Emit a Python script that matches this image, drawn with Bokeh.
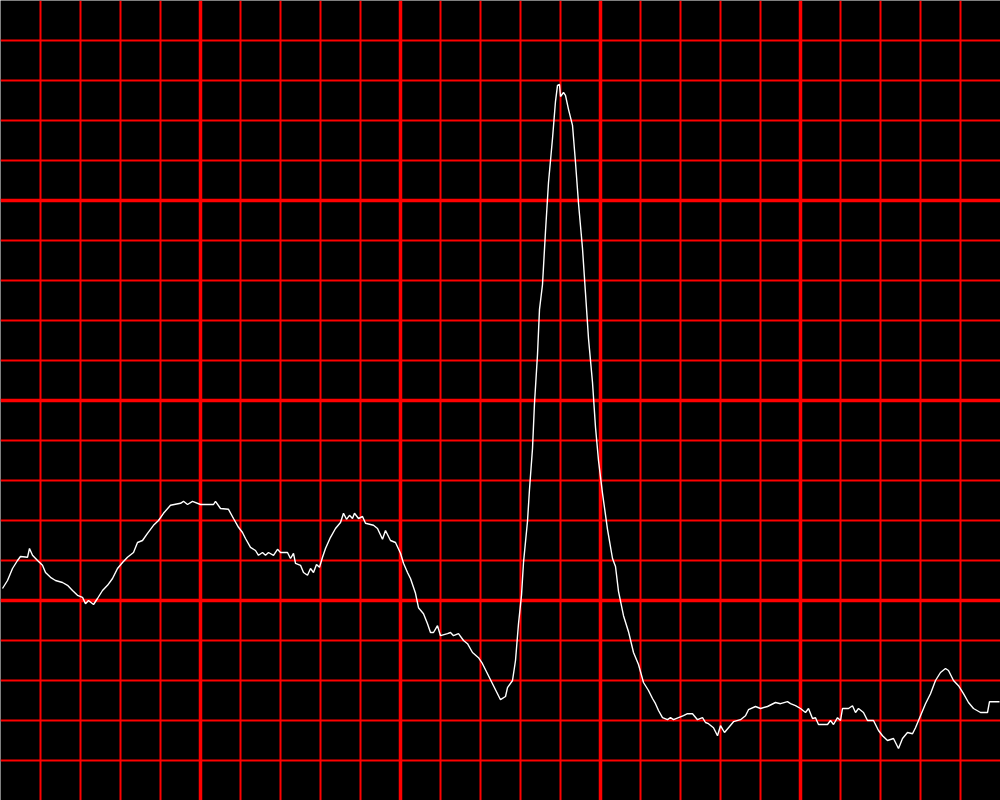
from bokeh.plotting import figure
from bokeh.models import FixedTicker, Range1d
from bokeh.embed import file_html
from bokeh.resources import INLINE

# ECG trace: time in ms, amplitude in mV
time_ms = [2, 7, 12, 17, 20, 27, 29, 32, 37, 42, 45, 50, 55, 62, 67, 72, 77, 82, 85, 88,
           93, 97, 102, 107, 112, 117, 122, 127, 133, 137, 142, 147, 153, 158, 163, 170, 180, 183, 187, 192,
           200, 213, 215, 220, 228, 233, 238, 242, 245, 250, 255, 258, 262, 265, 268, 273, 277, 280, 287, 290,
           293, 295, 300, 303, 307, 310, 313, 316, 319, 322, 325, 330, 335, 340, 343, 346, 349, 352, 354, 358,
           362, 365, 373, 377, 382, 385, 390, 395, 400, 403, 407, 410, 415, 418, 423, 427, 430, 433, 437, 440,
           447, 450, 453, 458, 463, 467, 472, 478, 482, 487, 492, 497, 500, 505, 507, 512, 515, 518, 521, 523,
           527, 529, 532, 534, 537, 539, 542, 545, 548, 552, 555, 557, 559, 560, 563, 565, 568, 572, 575, 578,
           582, 585, 588, 592, 595, 598, 602, 607, 612, 615, 618, 623, 628, 633, 638, 643, 648, 652, 655, 658,
           662, 667, 670, 673, 678, 683, 687, 692, 697, 702, 705, 708, 713, 717, 720, 724, 728, 733, 740, 745,
           748, 755, 760, 767, 775, 780, 787, 790, 795, 800, 805, 808, 812, 815, 818, 827, 830, 833, 837, 840,
           842, 848, 852, 855, 858, 863, 867, 873, 878, 882, 887, 893, 898, 902, 907, 912, 915, 920, 925, 930,
           935, 940, 945, 948, 953, 958, 963, 968, 973, 980, 987, 989, 999]
amplitude_mv = [0.030, 0.050, 0.080, 0.100, 0.110, 0.108, 0.130, 0.113, 0.100, 0.088, 0.070, 0.058, 0.050, 0.045, 0.038, 0.025, 0.013, 0.008, -0.008, 0.000,
                -0.010, 0.005, 0.025, 0.038, 0.055, 0.080, 0.095, 0.108, 0.120, 0.145, 0.150, 0.168, 0.188, 0.200, 0.218, 0.238, 0.243, 0.248, 0.240, 0.248,
                0.240, 0.240, 0.248, 0.230, 0.228, 0.205, 0.183, 0.170, 0.155, 0.133, 0.125, 0.113, 0.120, 0.113, 0.120, 0.113, 0.128, 0.120, 0.120, 0.105,
                0.118, 0.093, 0.088, 0.070, 0.063, 0.080, 0.070, 0.090, 0.083, 0.108, 0.130, 0.158, 0.180, 0.195, 0.218, 0.203, 0.213, 0.205, 0.218, 0.205,
                0.210, 0.193, 0.188, 0.180, 0.153, 0.175, 0.150, 0.145, 0.118, 0.093, 0.070, 0.055, 0.018, -0.018, -0.033, -0.058, -0.080, -0.080, -0.063, -0.088,
                -0.083, -0.080, -0.088, -0.083, -0.100, -0.108, -0.130, -0.143, -0.158, -0.183, -0.208, -0.233, -0.248, -0.240, -0.218, -0.200, -0.150, -0.058, 0.013, 0.095,
                0.198, 0.278, 0.380, 0.493, 0.615, 0.728, 0.790, 0.923, 1.045, 1.155, 1.248, 1.288, 1.290, 1.260, 1.270, 1.263, 1.228, 1.188, 1.095, 0.993,
                0.880, 0.768, 0.655, 0.545, 0.433, 0.350, 0.268, 0.178, 0.105, 0.085, 0.023, -0.038, -0.078, -0.130, -0.160, -0.205, -0.225, -0.245, -0.258, -0.275,
                -0.293, -0.298, -0.293, -0.298, -0.293, -0.288, -0.283, -0.283, -0.298, -0.293, -0.305, -0.308, -0.318, -0.338, -0.313, -0.330, -0.318, -0.303, -0.298, -0.288,
                -0.273, -0.265, -0.270, -0.265, -0.255, -0.258, -0.253, -0.258, -0.263, -0.270, -0.280, -0.270, -0.295, -0.293, -0.310, -0.310, -0.300, -0.310, -0.293, -0.300,
                -0.270, -0.270, -0.263, -0.280, -0.270, -0.280, -0.300, -0.300, -0.325, -0.338, -0.350, -0.345, -0.370, -0.345, -0.330, -0.333, -0.318, -0.288, -0.258, -0.233,
                -0.200, -0.180, -0.170, -0.175, -0.200, -0.213, -0.233, -0.255, -0.270, -0.280, -0.280, -0.253, -0.253]

# ECG paper grid: small squares 40 ms / 0.1 mV, large squares 200 ms / 0.5 mV
x_major = [0, 200, 400, 600, 800]
x_minor = [40, 80, 120, 160, 240, 280, 320, 360, 440, 480, 520, 560,
           640, 680, 720, 760, 840, 880, 920, 960]
y_major = [0.0, 0.5, 1.0, 1.5]
y_minor = [-0.4, -0.3, -0.2, -0.1, 0.1, 0.2, 0.3, 0.4, 0.6, 0.7, 0.8, 0.9,
           1.1, 1.2, 1.3, 1.4]

p = figure(width=1000, height=800, output_backend="svg", toolbar_location=None,
           x_range=Range1d(0, 1000), y_range=Range1d(-0.5, 1.5),
           min_border=0, background_fill_color="black", border_fill_color="black")
p.outline_line_color = None
p.xaxis.visible = False
p.yaxis.visible = False

p.xgrid.ticker = FixedTicker(ticks=x_major, minor_ticks=x_minor)
p.ygrid.ticker = FixedTicker(ticks=y_major, minor_ticks=y_minor)
for g in (p.xgrid, p.ygrid):
    g.grid_line_color = "#ff0000"
    g.grid_line_width = 3.5
    g.grid_line_alpha = 1.0
    g.minor_grid_line_color = "#ff0000"
    g.minor_grid_line_width = 2
    g.minor_grid_line_alpha = 1.0

p.line(time_ms, amplitude_mv, line_color="white", line_width=1.4)

open("out.html", "w").write(file_html(p, INLINE))
